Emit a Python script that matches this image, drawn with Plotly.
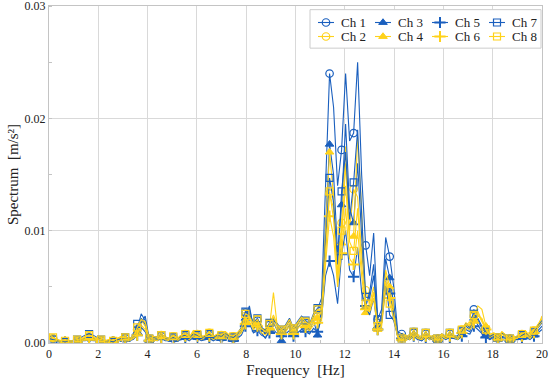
import numpy as np
import plotly.graph_objects as go

# ---------------- data (spectrum values, m/s^2) ----------------
f_min, f_max, n_pts = 0.0, 20.0, 124
mark_start, mark_every = 1, 3

ch1 = [0.0003, 0.0004, 0.0003, 0.0001, 0.0001, 0.0002, 0.0001, 0.0002, 0.0003, 0.0004,
       0.0005, 0.0004, 0.0003, 0.0002, 0.0001, 0.0002, 0.0002, 0.0003, 0.0005, 0.0004,
       0.0003, 0.0005, 0.0012, 0.0026, 0.0020, 0.0003, 0.0005, 0.0004, 0.0006, 0.0004,
       0.0003, 0.0004, 0.0003, 0.0005, 0.0006, 0.0004, 0.0009, 0.0006, 0.0004, 0.0005,
       0.0007, 0.0004, 0.0006, 0.0005, 0.0008, 0.0005, 0.0004, 0.0007, 0.0012, 0.0027,
       0.0030, 0.0016, 0.0020, 0.0012, 0.0009, 0.0016, 0.0022, 0.0015, 0.0010, 0.0014,
       0.0020, 0.0011, 0.0017, 0.0022, 0.0018, 0.0015, 0.0024, 0.0030,
       0.0040, 0.0150, 0.0240, 0.0210, 0.0140, 0.0172, 0.0240, 0.0180, 0.0187, 0.0250,
       0.0150, 0.0087, 0.0060, 0.0098, 0.0021, 0.0030, 0.0094, 0.0077, 0.0050, 0.0010, 0.0008,
       0.0006, 0.0004, 0.0009, 0.0005, 0.0003, 0.0008, 0.0004, 0.0006, 0.0003, 0.0007, 0.0005,
       0.0008, 0.0006, 0.0004, 0.0010, 0.0015, 0.0012, 0.0030, 0.0020, 0.0013, 0.0009,
       0.0005, 0.0007, 0.0004, 0.0008, 0.0006, 0.0003, 0.0005, 0.0004, 0.0006, 0.0008,
       0.0005, 0.0009, 0.0014, 0.0018]

ch2 = [0.0005, 0.0004, 0.0003, 0.0002, 0.0001, 0.0002, 0.0002, 0.0002, 0.0003, 0.0005,
       0.0006, 0.0005, 0.0004, 0.0002, 0.0002, 0.0003, 0.0002, 0.0004, 0.0006, 0.0005,
       0.0004, 0.0006, 0.0011, 0.0022, 0.0018, 0.0004, 0.0006, 0.0005, 0.0007, 0.0005,
       0.0004, 0.0006, 0.0004, 0.0007, 0.0008, 0.0005, 0.0011, 0.0008, 0.0005, 0.0007,
       0.0009, 0.0005, 0.0008, 0.0007, 0.0010, 0.0007, 0.0006, 0.0009, 0.0013, 0.0024,
       0.0026, 0.0017, 0.0021, 0.0013, 0.0010, 0.0017, 0.0025, 0.0016, 0.0011, 0.0015,
       0.0021, 0.0012, 0.0018, 0.0023, 0.0019, 0.0016, 0.0022, 0.0026,
       0.0025, 0.0080, 0.0133, 0.0120, 0.0060, 0.0107, 0.0175, 0.0100, 0.0137, 0.0130,
       0.0080, 0.0047, 0.0035, 0.0050, 0.0018, 0.0020, 0.0060, 0.0045, 0.0030, 0.0006, 0.0005,
       0.0007, 0.0005, 0.0010, 0.0006, 0.0004, 0.0009, 0.0005, 0.0007, 0.0004, 0.0008, 0.0006,
       0.0009, 0.0007, 0.0005, 0.0012, 0.0018, 0.0016, 0.0024, 0.0028, 0.0020, 0.0012,
       0.0008, 0.0009, 0.0005, 0.0010, 0.0007, 0.0004, 0.0006, 0.0005, 0.0008, 0.0010,
       0.0006, 0.0011, 0.0016, 0.0021]

ch3 = [0.0002, 0.0003, 0.0002, 0.0001, 0.0001, 0.0001, 0.0001, 0.0002, 0.0002, 0.0003,
       0.0004, 0.0003, 0.0002, 0.0001, 0.0001, 0.0001, 0.0002, 0.0002, 0.0004, 0.0003,
       0.0002, 0.0004, 0.0010, 0.0022, 0.0016, 0.0002, 0.0004, 0.0003, 0.0005, 0.0003,
       0.0002, 0.0003, 0.0002, 0.0004, 0.0005, 0.0003, 0.0007, 0.0005, 0.0003, 0.0004,
       0.0005, 0.0003, 0.0005, 0.0004, 0.0006, 0.0004, 0.0003, 0.0005, 0.0010, 0.0022,
       0.0033, 0.0013, 0.0016, 0.0009, 0.0004, 0.0012, 0.0018, 0.0011, 0.0002, 0.0010,
       0.0016, 0.0008, 0.0013, 0.0018, 0.0014, 0.0011, 0.0020, 0.0007,
       0.0030, 0.0110, 0.0177, 0.0150, 0.0080, 0.0123, 0.0195, 0.0120, 0.0107, 0.0160,
       0.0090, 0.0032, 0.0045, 0.0070, 0.0015, 0.0025, 0.0075, 0.0058, 0.0035, 0.0008, 0.0004,
       0.0005, 0.0003, 0.0007, 0.0004, 0.0002, 0.0006, 0.0003, 0.0005, 0.0002, 0.0006, 0.0004,
       0.0006, 0.0005, 0.0003, 0.0008, 0.0012, 0.0010, 0.0022, 0.0016, 0.0010, 0.0007,
       0.0004, 0.0006, 0.0003, 0.0006, 0.0005, 0.0002, 0.0004, 0.0003, 0.0005, 0.0006,
       0.0004, 0.0007, 0.0011, 0.0015]

ch4 = [0.0003, 0.0003, 0.0002, 0.0001, 0.0001, 0.0001, 0.0001, 0.0002, 0.0002, 0.0004,
       0.0004, 0.0004, 0.0003, 0.0002, 0.0001, 0.0002, 0.0001, 0.0003, 0.0004, 0.0004,
       0.0003, 0.0005, 0.0009, 0.0020, 0.0015, 0.0003, 0.0004, 0.0003, 0.0006, 0.0004,
       0.0003, 0.0005, 0.0003, 0.0006, 0.0007, 0.0004, 0.0009, 0.0007, 0.0004, 0.0006,
       0.0007, 0.0004, 0.0006, 0.0005, 0.0008, 0.0006, 0.0005, 0.0007, 0.0011, 0.0020,
       0.0022, 0.0014, 0.0018, 0.0011, 0.0008, 0.0014, 0.0045, 0.0013, 0.0009, 0.0012,
       0.0018, 0.0010, 0.0015, 0.0020, 0.0016, 0.0013, 0.0019, 0.0022,
       0.0028, 0.0100, 0.0170, 0.0130, 0.0055, 0.0089, 0.0160, 0.0095, 0.0095, 0.0184,
       0.0120, 0.0027, 0.0030, 0.0045, 0.0012, 0.0018, 0.0065, 0.0050, 0.0028, 0.0005, 0.0004,
       0.0006, 0.0004, 0.0008, 0.0005, 0.0003, 0.0007, 0.0004, 0.0006, 0.0003, 0.0007, 0.0005,
       0.0007, 0.0006, 0.0004, 0.0010, 0.0016, 0.0014, 0.0021, 0.0033, 0.0030, 0.0015,
       0.0006, 0.0008, 0.0004, 0.0009, 0.0006, 0.0003, 0.0005, 0.0004, 0.0007, 0.0009,
       0.0005, 0.0010, 0.0015, 0.0024]

ch5 = [0.0002, 0.0002, 0.0001, 0.0001, 0.0001, 0.0001, 0.0001, 0.0001, 0.0002, 0.0002,
       0.0003, 0.0002, 0.0002, 0.0001, 0.0001, 0.0001, 0.0001, 0.0002, 0.0003, 0.0002,
       0.0002, 0.0003, 0.0007, 0.0014, 0.0010, 0.0002, 0.0003, 0.0002, 0.0004, 0.0002,
       0.0002, 0.0002, 0.0002, 0.0003, 0.0004, 0.0002, 0.0005, 0.0004, 0.0002, 0.0003,
       0.0004, 0.0002, 0.0004, 0.0003, 0.0005, 0.0003, 0.0002, 0.0004, 0.0007, 0.0015,
       0.0018, 0.0009, 0.0011, 0.0007, 0.0005, 0.0009, 0.0012, 0.0008, 0.0006, 0.0008,
       0.0011, 0.0006, 0.0009, 0.0012, 0.0010, 0.0008, 0.0013, 0.0010,
       0.0022, 0.0060, 0.0073, 0.0060, 0.0035, 0.0079, 0.0100, 0.0065, 0.0059, 0.0085,
       0.0045, 0.0033, 0.0025, 0.0040, 0.0012, 0.0018, 0.0050, 0.0044, 0.0025, 0.0006, 0.0004,
       0.0004, 0.0003, 0.0006, 0.0003, 0.0002, 0.0005, 0.0003, 0.0004, 0.0002, 0.0005, 0.0003,
       0.0005, 0.0004, 0.0003, 0.0006, 0.0009, 0.0008, 0.0015, 0.0012, 0.0008, 0.0005,
       0.0003, 0.0005, 0.0003, 0.0005, 0.0004, 0.0002, 0.0003, 0.0003, 0.0004, 0.0005,
       0.0003, 0.0006, 0.0009, 0.0012]

ch6 = [0.0002, 0.0002, 0.0002, 0.0001, 0.0001, 0.0001, 0.0001, 0.0001, 0.0002, 0.0003,
       0.0003, 0.0003, 0.0002, 0.0001, 0.0001, 0.0001, 0.0001, 0.0002, 0.0003, 0.0003,
       0.0002, 0.0004, 0.0007, 0.0016, 0.0012, 0.0002, 0.0003, 0.0002, 0.0005, 0.0003,
       0.0002, 0.0004, 0.0002, 0.0005, 0.0006, 0.0003, 0.0007, 0.0006, 0.0003, 0.0005,
       0.0006, 0.0003, 0.0005, 0.0004, 0.0007, 0.0005, 0.0004, 0.0006, 0.0009, 0.0017,
       0.0019, 0.0012, 0.0015, 0.0009, 0.0007, 0.0012, 0.0020, 0.0011, 0.0008, 0.0010,
       0.0015, 0.0008, 0.0013, 0.0017, 0.0014, 0.0011, 0.0016, 0.0018,
       0.0020, 0.0070, 0.0113, 0.0095, 0.0050, 0.0080, 0.0120, 0.0075, 0.0070, 0.0100,
       0.0060, 0.0030, 0.0028, 0.0040, 0.0012, 0.0015, 0.0050, 0.0040, 0.0025, 0.0005, 0.0003,
       0.0005, 0.0003, 0.0007, 0.0004, 0.0003, 0.0006, 0.0003, 0.0005, 0.0003, 0.0006, 0.0004,
       0.0006, 0.0005, 0.0003, 0.0009, 0.0013, 0.0012, 0.0018, 0.0024, 0.0022, 0.0012,
       0.0005, 0.0007, 0.0003, 0.0008, 0.0005, 0.0003, 0.0004, 0.0004, 0.0006, 0.0008,
       0.0004, 0.0009, 0.0013, 0.0019]

ch7 = [0.0004, 0.0003, 0.0002, 0.0002, 0.0001, 0.0002, 0.0002, 0.0003, 0.0005, 0.0007,
       0.0008, 0.0007, 0.0005, 0.0003, 0.0002, 0.0002, 0.0001, 0.0003, 0.0004, 0.0005,
       0.0004, 0.0006, 0.0017, 0.0018, 0.0024, 0.0004, 0.0006, 0.0005, 0.0007, 0.0005,
       0.0004, 0.0005, 0.0004, 0.0006, 0.0007, 0.0005, 0.0008, 0.0007, 0.0005, 0.0006,
       0.0008, 0.0005, 0.0007, 0.0006, 0.0009, 0.0006, 0.0005, 0.0008, 0.0014, 0.0028,
       0.0025, 0.0018, 0.0022, 0.0014, 0.0011, 0.0018, 0.0020, 0.0017, 0.0012, 0.0016,
       0.0022, 0.0013, 0.0019, 0.0024, 0.0020, 0.0017, 0.0026, 0.0031,
       0.0032, 0.0090, 0.0147, 0.0125, 0.0070, 0.0135, 0.0170, 0.0110, 0.0143, 0.0190,
       0.0110, 0.0041, 0.0040, 0.0060, 0.0021, 0.0020, 0.0055, 0.0025, 0.0020, 0.0006, 0.0004,
       0.0007, 0.0005, 0.0010, 0.0006, 0.0004, 0.0009, 0.0005, 0.0007, 0.0004, 0.0008, 0.0006,
       0.0009, 0.0007, 0.0005, 0.0011, 0.0017, 0.0014, 0.0026, 0.0022, 0.0015, 0.0010,
       0.0006, 0.0008, 0.0005, 0.0009, 0.0007, 0.0004, 0.0006, 0.0005, 0.0007, 0.0009,
       0.0006, 0.0010, 0.0016, 0.0020]

ch8 = [0.0008, 0.0005, 0.0003, 0.0002, 0.0002, 0.0002, 0.0002, 0.0003, 0.0004, 0.0006,
       0.0007, 0.0006, 0.0004, 0.0003, 0.0002, 0.0003, 0.0002, 0.0004, 0.0005, 0.0005,
       0.0004, 0.0006, 0.0014, 0.0021, 0.0019, 0.0004, 0.0006, 0.0005, 0.0007, 0.0005,
       0.0004, 0.0006, 0.0004, 0.0007, 0.0008, 0.0005, 0.0010, 0.0008, 0.0005, 0.0007,
       0.0009, 0.0006, 0.0008, 0.0007, 0.0010, 0.0007, 0.0006, 0.0009, 0.0013, 0.0026,
       0.0024, 0.0017, 0.0021, 0.0013, 0.0010, 0.0017, 0.0023, 0.0016, 0.0012, 0.0015,
       0.0021, 0.0013, 0.0018, 0.0023, 0.0019, 0.0016, 0.0025, 0.0030,
       0.0030, 0.0085, 0.0135, 0.0110, 0.0060, 0.0100, 0.0140, 0.0090, 0.0082, 0.0120,
       0.0070, 0.0035, 0.0030, 0.0045, 0.0015, 0.0018, 0.0055, 0.0035, 0.0022, 0.0005, 0.0004,
       0.0007, 0.0005, 0.0010, 0.0006, 0.0004, 0.0009, 0.0005, 0.0007, 0.0004, 0.0008, 0.0006,
       0.0009, 0.0007, 0.0005, 0.0012, 0.0017, 0.0015, 0.0025, 0.0026, 0.0019, 0.0012,
       0.0007, 0.0009, 0.0005, 0.0010, 0.0007, 0.0004, 0.0006, 0.0005, 0.0008, 0.0010,
       0.0006, 0.0011, 0.0017, 0.0022]

names = ["Ch 1", "Ch 2", "Ch 3", "Ch 4", "Ch 5", "Ch 6", "Ch 7", "Ch 8"]
series = [ch1, ch2, ch3, ch4, ch5, ch6, ch7, ch8]
x_ticks = [0, 2, 4, 6, 8, 10, 12, 14, 16, 18, 20]
y_ticks = [0.00, 0.01, 0.02, 0.03]
y_min, y_max = 0.0, 0.03

# ---------------- styles ----------------
BLUE = "#1a5fbe"
YELLOW = "#ffd21a"
colors = [BLUE, YELLOW] * 4
symbols = ["circle-open", "circle-open", "triangle-up", "triangle-up",
           "cross-thin", "cross-thin", "square-open", "square-open"]
msizes = [7.5, 7.5, 7.5, 7.5, 8, 8, 7, 7]
mlw = [1.2, 1.2, 1, 1, 2, 2, 1.2, 1.2]
FONT = "Liberation Serif"

freq = np.linspace(f_min, f_max, n_pts)

fig = go.Figure()
for name, y, c, s, ms, lw in zip(names, series, colors, symbols, msizes, mlw):
    n = len(y)
    op = [1 if (i - mark_start) % mark_every == 0 and i >= mark_start else 0 for i in range(n)]
    fig.add_trace(go.Scatter(
        x=freq[:n], y=y, mode="lines+markers", name=name, showlegend=False,
        line=dict(color=c, width=1.1),
        marker=dict(symbol=s, size=ms, color=c, opacity=op,
                    line=dict(color=c, width=lw)),
    ))

# ---------------- custom legend (overlay pixel axes) ----------------
L, R, T, B = 49, 8, 6, 42
W, H = 550, 385
pw, ph = W - L - R, H - T - B


def px2x(px):
    return f_min + (px - L) / pw * (f_max - f_min)


def px2y(py):
    return y_max - (py - T) / ph * (y_max - y_min)


order = [0, 2, 4, 6, 1, 3, 5, 7]   # column-major like the reference
col_x0 = 326 - L                   # symbol centre of first column (plot px)
col_dx = 57
row_y = [22.5 - T, 36.5 - T]
for idx in order:
    col, row = idx // 2, idx % 2
    cx = col_x0 + col * col_dx
    cy = row_y[row]
    fig.add_trace(go.Scatter(
        x=[cx - 8, cx, cx + 8], y=[cy, cy, cy], xaxis="x2", yaxis="y2",
        mode="lines+markers", showlegend=False, hoverinfo="skip",
        line=dict(color=colors[idx], width=1.1),
        marker=dict(symbol=symbols[idx], size=msizes[idx], color=colors[idx],
                    opacity=[0, 1, 0], line=dict(color=colors[idx], width=mlw[idx])),
    ))
    fig.add_annotation(x=cx + 13, y=cy, xref="x2", yref="y2", text=names[idx],
                       showarrow=False, xanchor="left", yanchor="middle",
                       font=dict(family=FONT, size=13, color="#222"))

fig.add_shape(type="rect", xref="x", yref="y",
              x0=px2x(310), x1=px2x(541), y0=px2y(9.5), y1=px2y(48),
              line=dict(color="#cccccc", width=1), fillcolor="white", layer="between")

axis_font = dict(family=FONT, size=12, color="#222")
title_font = dict(family=FONT, size=15, color="#222")
fig.update_layout(
    width=W, height=H, margin=dict(l=L, r=R, t=T, b=B),
    paper_bgcolor="white", plot_bgcolor="white",
    font=dict(family=FONT, size=12, color="#222"),
    showlegend=False,
    xaxis=dict(range=[f_min, f_max], tickvals=x_ticks, ticktext=[str(v) for v in x_ticks],
               showgrid=True, gridcolor="#d9d9d9", gridwidth=1, zeroline=False,
               showline=True, linecolor="#c4c4c4", mirror=True, ticks="",
               tickfont=axis_font, automargin=False, ticklabeloverflow="allow",
               minor=dict(dtick=1, ticks="inside", ticklen=3, tickcolor="#c4c4c4", showgrid=False),
               title=dict(text="Frequency  [Hz]", font=title_font, standoff=4)),
    yaxis=dict(range=[y_min, y_max * 1.0005], tickvals=y_ticks, tickformat=".2f",
               showgrid=True, gridcolor="#d9d9d9", gridwidth=1, zeroline=False,
               showline=True, linecolor="#c4c4c4", mirror=True, ticks="",
               tickfont=axis_font, automargin=False, ticklabeloverflow="allow",
               minor=dict(dtick=0.005, ticks="inside", ticklen=3, tickcolor="#c4c4c4", showgrid=False),
               title=dict(text="Spectrum  [m/s²]", font=title_font, standoff=2)),
    xaxis2=dict(overlaying="x", range=[0, pw], visible=False, fixedrange=True),
    yaxis2=dict(overlaying="y", range=[ph, 0], visible=False, fixedrange=True),
)

fig.write_html("out.html", config={"displayModeBar": False},
               post_script="document.body.style.margin='0';")
